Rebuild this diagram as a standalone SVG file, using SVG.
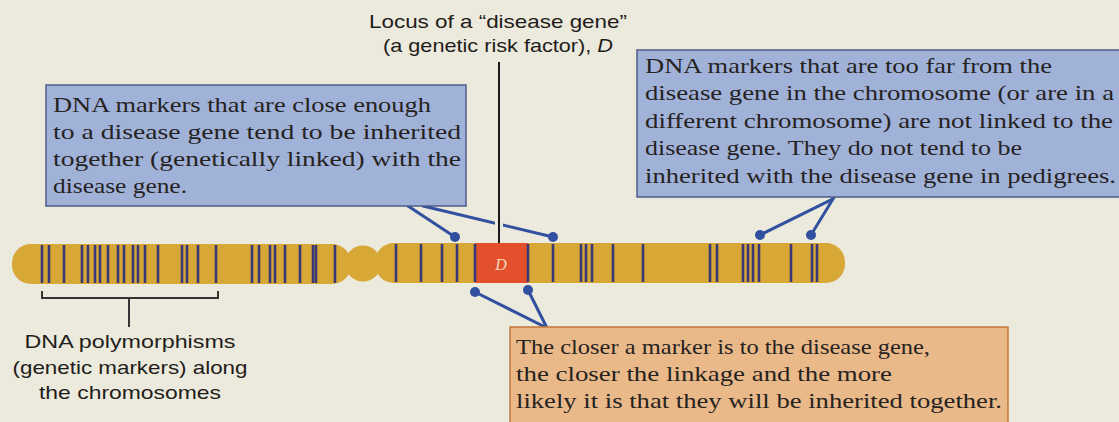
<svg xmlns="http://www.w3.org/2000/svg" width="1119" height="422" viewBox="0 0 1119 422">
  <style>
    .serif { font-family: "Liberation Serif", "DejaVu Serif", serif; font-size: 21px; fill: #26231f; }
    .sans { font-family: "Liberation Sans", Arial, sans-serif; font-size: 19px; fill: #1f1d1a; }
    .bluebox { fill: #a1b2d9; stroke: #4d5b86; stroke-width: 1.5; }
    .tanbox { fill: #eab98a; stroke: #c2793a; stroke-width: 1.5; }
    .arm { fill: #d8a836; }
    .band { stroke: #3b3878; stroke-width: 2.6; }
    .link { stroke: #3250a0; stroke-width: 3; fill: none; stroke-linecap: round; }
    .dot { fill: #3250a0; }
    .bracket { stroke: #333; stroke-width: 2; fill: none; }
  </style>
  <defs>
    <clipPath id="chromClip">
      <rect x="12" y="244" width="339" height="40" rx="19"/>
      <rect x="375" y="243" width="470" height="40" rx="19"/>
    </clipPath>
  </defs>

  <rect width="1119" height="422" fill="#ece9dd"/>

  <!-- chromosome body with marker bands -->
  <g id="chromosome">
    <rect class="arm" x="12" y="244" width="339" height="40" rx="19"/>
    <circle class="arm" cx="363" cy="263.5" r="18"/>
    <rect class="arm" x="375" y="243" width="470" height="40" rx="19"/>
    <g clip-path="url(#chromClip)" class="band">
      <path d="M42 245V283M49 245V283M64 245V283M82 245V283M88 245V283M95 245V283M100 245V283M108 245V283M118 245V283M124 245V283M133 245V283M138 245V283M145 245V283M158 245V283M182 245V283M187 245V283M198 245V283M216 245V283M252 245V283M259 245V283M270 245V283M275 245V283M285 245V283M300 245V283M313 245V283M316 245V283M335 245V283"/>
      <path d="M396 244V282M421 244V282M442 244V282M457 244V282M553 244V282M581 244V282M586 244V282M592 244V282M613 244V282M643 244V282M710 244V282M717 244V282M743 244V282M748 244V282M753 244V282M759 244V282M791 244V282M812 244V282M817 244V282"/>
    </g>
  </g>

  <!-- disease gene locus -->
  <g id="locusD">
    <rect x="475" y="243" width="53" height="40" fill="#e2512c"/>
    <path class="band" d="M475 244V282M528 244V282"/>
    <text x="501" y="270" text-anchor="middle" font-family="Liberation Serif, serif" font-style="italic" font-size="16" fill="#f6d9bd">D</text>
  </g>

  <!-- connectors -->
  <g id="connectors">
    <path class="link" d="M408 206L455 237"/>
    <path class="link" d="M423 206L553 237"/>
    <line x1="499" y1="208" x2="499" y2="240" stroke="#ece9dd" stroke-width="8"/>
    <line x1="499" y1="62" x2="499" y2="243" stroke="#1a1a1a" stroke-width="2"/>
    <circle class="dot" cx="455" cy="237" r="5"/>
    <circle class="dot" cx="553" cy="237" r="5"/>

    <path class="link" d="M760 235L833 199L811 235"/>
    <circle class="dot" cx="760" cy="235" r="5"/>
    <circle class="dot" cx="811" cy="235" r="5"/>

    <path class="link" d="M475 292L547 328L528 290"/>
    <circle class="dot" cx="475" cy="292" r="5"/>
    <circle class="dot" cx="528" cy="290" r="5"/>

    <path class="bracket" d="M42 291V298H218V291M129 298V327"/>
  </g>

  <!-- locus label -->
  <g id="locusLabel">
    <text class="sans" x="498" y="28" text-anchor="middle" textLength="258" lengthAdjust="spacingAndGlyphs">Locus of a “disease gene”</text>
    <text class="sans" x="498" y="52" text-anchor="middle" textLength="230" lengthAdjust="spacingAndGlyphs">(a genetic risk factor), <tspan font-style="italic">D</tspan></text>
  </g>

  <!-- linked markers note -->
  <g id="linkedNote">
    <rect class="bluebox" x="46" y="85" width="420" height="121"/>
    <text class="serif" x="53" y="112" textLength="378" lengthAdjust="spacingAndGlyphs">DNA markers that are close enough</text>
    <text class="serif" x="53" y="139" textLength="408" lengthAdjust="spacingAndGlyphs">to a disease gene tend to be inherited</text>
    <text class="serif" x="53" y="166" textLength="408" lengthAdjust="spacingAndGlyphs">together (genetically linked) with the</text>
    <text class="serif" x="53" y="193" textLength="134" lengthAdjust="spacingAndGlyphs">disease gene.</text>
  </g>

  <!-- unlinked markers note -->
  <g id="unlinkedNote">
    <rect class="bluebox" x="637" y="50" width="490" height="147"/>
    <text class="serif" x="645" y="73" textLength="407" lengthAdjust="spacingAndGlyphs">DNA markers that are too far from the</text>
    <text class="serif" x="645" y="100" textLength="469" lengthAdjust="spacingAndGlyphs">disease gene in the chromosome (or are in a</text>
    <text class="serif" x="645" y="128" textLength="468" lengthAdjust="spacingAndGlyphs">different chromosome) are not linked to the</text>
    <text class="serif" x="645" y="155" textLength="377" lengthAdjust="spacingAndGlyphs">disease gene. They do not tend to be</text>
    <text class="serif" x="645" y="183" textLength="471" lengthAdjust="spacingAndGlyphs">inherited with the disease gene in pedigrees.</text>
  </g>

  <!-- closeness note -->
  <g id="closenessNote">
    <rect class="tanbox" x="510" y="327" width="498" height="100"/>
    <text class="serif" x="516" y="354" textLength="414" lengthAdjust="spacingAndGlyphs">The closer a marker is to the disease gene,</text>
    <text class="serif" x="516" y="381" textLength="376" lengthAdjust="spacingAndGlyphs">the closer the linkage and the more</text>
    <text class="serif" x="516" y="408" textLength="486" lengthAdjust="spacingAndGlyphs">likely it is that they will be inherited together.</text>
  </g>

  <!-- polymorphism label -->
  <g id="polymorphismLabel">
    <text class="sans" x="130" y="348" text-anchor="middle" textLength="211" lengthAdjust="spacingAndGlyphs">DNA polymorphisms</text>
    <text class="sans" x="130" y="374" text-anchor="middle" textLength="235" lengthAdjust="spacingAndGlyphs">(genetic markers) along</text>
    <text class="sans" x="130" y="399" text-anchor="middle" textLength="182" lengthAdjust="spacingAndGlyphs">the chromosomes</text>
  </g>
</svg>
